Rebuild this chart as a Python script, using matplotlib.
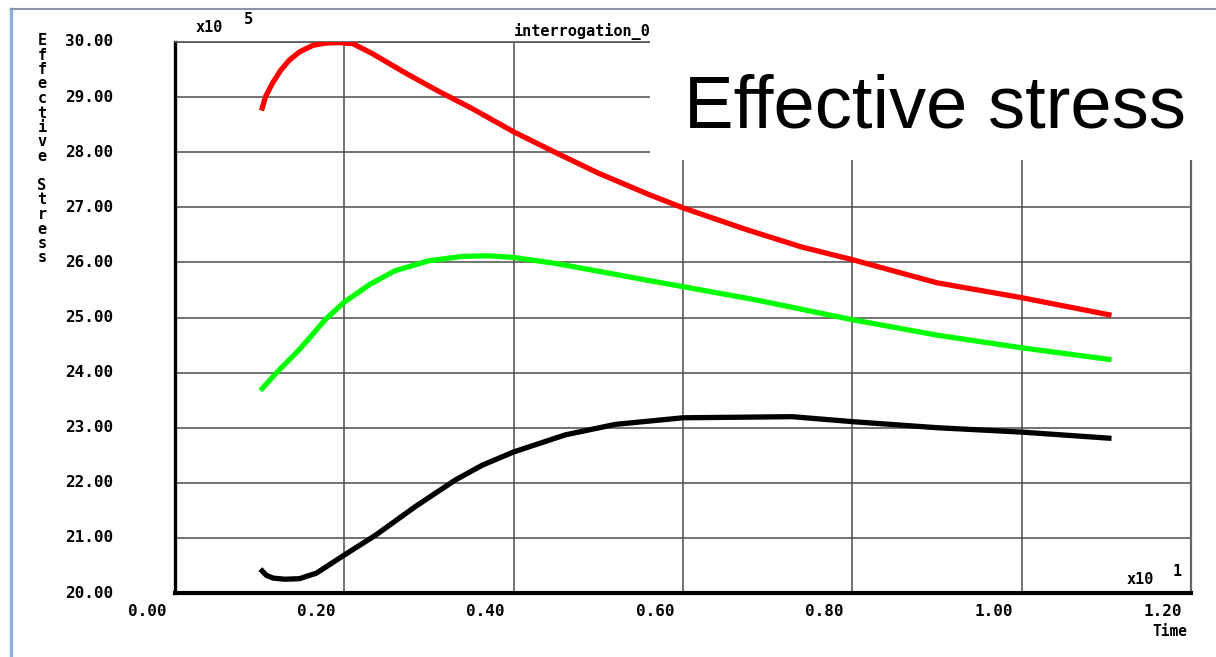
import matplotlib
matplotlib.use("Agg")
import matplotlib.pyplot as plt
from matplotlib.patches import Rectangle
from matplotlib.lines import Line2D
from matplotlib.transforms import ScaledTranslation

# ---- data (time in units of 10^1, stress in units of 10^5) ----
red_time = [0.103, 0.107, 0.115, 0.125, 0.135, 0.147, 0.163, 0.178, 0.194,
            0.210, 0.233, 0.273, 0.312, 0.350, 0.400, 0.450, 0.500, 0.560,
            0.600, 0.674, 0.740, 0.800, 0.900, 1.000, 1.103]
red_stress = [28.80, 29.01, 29.25, 29.49, 29.67, 29.82, 29.94, 29.98, 29.99,
              29.97, 29.79, 29.43, 29.10, 28.80, 28.37, 27.99, 27.62, 27.23,
              26.99, 26.60, 26.28, 26.05, 25.63, 25.36, 25.05]

green_time = [0.103, 0.120, 0.147, 0.178, 0.200, 0.230, 0.260, 0.300, 0.340,
              0.370, 0.400, 0.450, 0.500, 0.560, 0.600, 0.686, 0.800, 0.900,
              1.000, 1.103]
green_stress = [23.71, 24.00, 24.42, 24.97, 25.28, 25.60, 25.85, 26.03, 26.11,
                26.12, 26.09, 25.98, 25.84, 25.67, 25.56, 25.32, 24.96, 24.68,
                24.45, 24.24]

black_time = [0.103, 0.108, 0.116, 0.130, 0.147, 0.167, 0.200, 0.237, 0.284,
              0.331, 0.363, 0.400, 0.461, 0.520, 0.600, 0.729, 0.800, 0.900,
              1.000, 1.103]
black_stress = [20.40, 20.32, 20.27, 20.25, 20.26, 20.36, 20.69, 21.05, 21.57,
                22.05, 22.32, 22.56, 22.87, 23.06, 23.18, 23.20, 23.11, 23.00,
                22.92, 22.81]

x_ticks = [0.0, 0.2, 0.4, 0.6, 0.8, 1.0, 1.2]
x_tick_labels = ["0.00", "0.20", "0.40", "0.60", "0.80", "1.00", "1.20"]
y_ticks = [20, 21, 22, 23, 24, 25, 26, 27, 28, 29, 30]
y_tick_labels = ["20.00", "21.00", "22.00", "23.00", "24.00", "25.00",
                 "26.00", "27.00", "28.00", "29.00", "30.00"]

W, H = 1216, 657
MONO = "DejaVu Sans Mono"


def fpos(x, y):
    """Pixel position (from top-left) to figure fraction."""
    return x / W, 1 - y / H


fig = plt.figure(figsize=(W / 100, H / 100), dpi=100)
fig.patch.set_facecolor("white")

ax = fig.add_axes([175 / W, (H - 593) / H, (1191 - 175) / W, (593 - 42) / H])
ax.set_xlim(0, 1.2)
ax.set_ylim(20, 30)
ax.set_xticks(x_ticks)
ax.set_yticks(y_ticks)
ax.tick_params(length=0, labelbottom=False, labelleft=False)
ax.grid(True, color="#4d4d4d", linewidth=1.1)
ax.set_axisbelow(True)

ax.spines["left"].set_linewidth(2.4)
ax.spines["left"].set_color("black")
ax.spines["bottom"].set_linewidth(3.0)
ax.spines["bottom"].set_color("black")
ax.spines["top"].set_linewidth(1.2)
ax.spines["top"].set_color("#555555")
ax.spines["right"].set_linewidth(1.6)
ax.spines["right"].set_color("#666666")

lw = 3.8
ax.plot(red_time, red_stress, color="#ff0000", linewidth=lw, zorder=3,
        solid_joinstyle="round")
ax.plot(green_time, green_stress, color="#00ff00", linewidth=lw, zorder=3,
        solid_joinstyle="round")
ax.plot(black_time, black_stress, color="black", linewidth=lw, zorder=3,
        solid_joinstyle="round")

# tick labels
xoff = ScaledTranslation(-28 / 100, -19 / 100, fig.dpi_scale_trans)
for t, lab in zip(x_ticks, x_tick_labels):
    ax.text(t, 0, lab, transform=ax.get_xaxis_transform() + xoff,
            ha="center", va="center", family=MONO, fontweight="bold",
            fontsize=11.5, clip_on=False)
yoff = ScaledTranslation(-62 / 100, 0, fig.dpi_scale_trans)
for v, lab in zip(y_ticks, y_tick_labels):
    ax.text(0, v, lab, transform=ax.get_yaxis_transform() + yoff,
            ha="right", va="center", family=MONO, fontweight="bold",
            fontsize=11.5, clip_on=False)

# axis titles and multipliers
fig.text(*fpos(1170, 632), "Time", ha="center", va="center", family=MONO,
         fontweight="bold", fontsize=10.5)
fig.text(*fpos(1140, 579), "x10", ha="center", va="center", family=MONO,
         fontweight="bold", fontsize=11)
fig.text(*fpos(1177, 571), "1", ha="center", va="center", family=MONO,
         fontweight="bold", fontsize=11)
fig.text(*fpos(209, 28), "x10", ha="center", va="center", family=MONO,
         fontweight="bold", fontsize=11)
fig.text(*fpos(248, 19), "5", ha="center", va="center", family=MONO,
         fontweight="bold", fontsize=11)
fig.text(*fpos(582, 32), "interrogation_0", ha="center", va="center",
         family=MONO, fontweight="bold", fontsize=11)

# stacked vertical y-axis title
ylabel = "Effective Stress"
for i, ch in enumerate(ylabel):
    if ch == " ":
        continue
    fig.text(*fpos(42, 45 + 14.5 * i), ch, ha="center", va="baseline",
             family=MONO, fontweight="bold", fontsize=11)

# headline panel in the upper right
fig.patches.append(Rectangle(fpos(650, 160), (W - 650) / W, 120 / H,
                             transform=fig.transFigure, facecolor="white",
                             edgecolor="none", zorder=5))
fig.text(*fpos(935, 128), "Effective stress", ha="center", va="baseline",
         family="Liberation Sans", fontsize=53.5, color="black", zorder=6)

# window frame edges
fig.lines.append(Line2D([11 / W, 11 / W], [0, 1 - 9 / H],
                        transform=fig.transFigure, color="#8fb0d8",
                        linewidth=2.5))
fig.lines.append(Line2D([11 / W, 1], [1 - 9 / H, 1 - 9 / H],
                        transform=fig.transFigure, color="#8a93b4",
                        linewidth=1.5))

fig.savefig("out.png", dpi=100, facecolor="white")
